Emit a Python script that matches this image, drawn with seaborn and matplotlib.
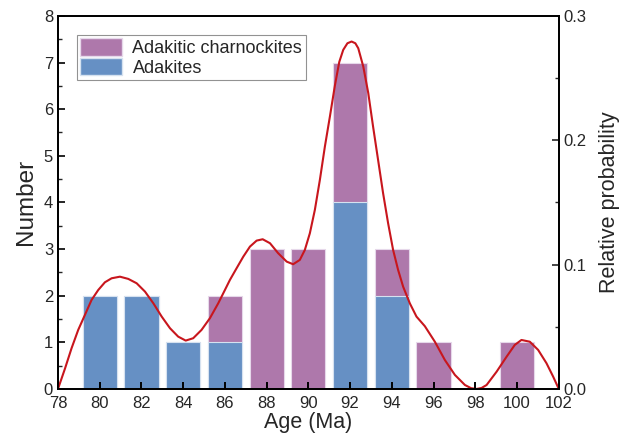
import matplotlib
matplotlib.use("Agg")
import matplotlib.pyplot as plt
import matplotlib.transforms as mtransforms
import seaborn as sns
from matplotlib.ticker import MultipleLocator, FormatStrFormatter
from matplotlib.patches import Patch

# ---- data ----
ages = [80, 82, 84, 86, 88, 90, 92, 94, 96, 98, 100]
adakites = [2, 2, 1, 1, 0, 0, 4, 2, 0, 0, 0]
charnockites = [0, 0, 0, 1, 3, 3, 3, 1, 1, 0, 1]

curve_x = [78.0, 78.34, 78.65, 78.97, 79.29, 79.61, 79.93, 80.25, 80.57, 80.97,
           81.37, 81.77, 82.17, 82.57, 82.97, 83.37, 83.76, 84.12, 84.48, 84.88,
           85.28, 85.68, 86.0, 86.24, 86.56, 86.88, 87.2, 87.52, 87.81, 88.16,
           88.55, 88.96, 89.27, 89.59, 89.83, 90.07, 90.31, 90.55, 90.79, 91.03,
           91.27, 91.48, 91.67, 91.87, 92.07, 92.25, 92.39, 92.63, 92.87, 93.10,
           93.34, 93.58, 93.82, 94.06, 94.30, 94.54, 94.86, 95.18, 95.58, 96.06,
           96.54, 97.02, 97.5, 97.8, 98.06, 98.3, 98.54, 99.02, 99.5, 99.89,
           100.21, 100.61, 101.01, 101.41, 101.73, 102.0]
curve_p = [0.0, 0.0166, 0.0327, 0.0475, 0.0595, 0.0716, 0.0796, 0.0858, 0.0890, 0.0903,
           0.0885, 0.0850, 0.0783, 0.0689, 0.0582, 0.0488, 0.0421, 0.0389, 0.0408, 0.0475,
           0.0569, 0.0689, 0.0796, 0.0877, 0.0971, 0.1064, 0.1145, 0.1193, 0.1204, 0.1172,
           0.1092, 0.1024, 0.1003, 0.1038, 0.1118, 0.1252, 0.1440, 0.1681, 0.1949, 0.2190,
           0.2440, 0.2630, 0.2727, 0.2780, 0.2794, 0.2780, 0.2740, 0.2593, 0.2379, 0.2110,
           0.1842, 0.1574, 0.1333, 0.1118, 0.0957, 0.0823, 0.0689, 0.0582, 0.0505, 0.0380,
           0.0233, 0.0113, 0.0032, 0.0006, 0.0, 0.0008, 0.0032, 0.0139, 0.0260, 0.0354,
           0.0394, 0.0380, 0.0314, 0.0207, 0.0099, 0.0]

labels = ["Adakitic charnockites", "Adakites"]
purple = "#AE78AB"
blue = "#6690C4"
red = "#C8161D"

totals = [a + c for a, c in zip(adakites, charnockites)]

sns.set_style("ticks")
plt.rcParams['font.family'] = ['Liberation Sans', 'DejaVu Sans']

rect = [0.0913, 0.12, 0.7887, 0.844]
fig = plt.figure(figsize=(6.35, 4.42), dpi=100)
ax = fig.add_axes(rect)

sns.barplot(x=ages, y=totals, native_scale=True, width=0.82, color=purple,
            saturation=1, edgecolor="#E6D8EA", linewidth=0.8, ax=ax)
sns.barplot(x=ages, y=adakites, native_scale=True, width=0.82, color=blue,
            saturation=1, edgecolor="#D6E2F0", linewidth=0.8, ax=ax)
ax.set_axisbelow(False)

ax.set_xlim(78, 102)
ax.set_ylim(0, 8)
ax.xaxis.set_major_locator(MultipleLocator(2))
ax.yaxis.set_major_locator(MultipleLocator(1))
ax.yaxis.set_minor_locator(MultipleLocator(0.5))
ax.tick_params(axis='x', which='major', direction='in', length=5, width=1.2,
               labelsize=12, color='black', pad=5)
ax.tick_params(axis='y', which='major', direction='in', length=5,
               width=1.2, labelsize=12, color='black')
ax.tick_params(axis='y', which='minor', direction='in', length=3, width=1.0)
ax.set_xlabel("Age (Ma)", fontsize=15.5, labelpad=1)
ax.set_ylabel("Number", fontsize=17.5, labelpad=5)
for s in ax.spines.values():
    s.set_linewidth(1.3)
    s.set_color('black')

ax2 = ax.twinx()
sns.lineplot(x=curve_x, y=curve_p, color=red, linewidth=1.5, ax=ax2)
ax2.set_ylim(0, 0.3)
ax2.yaxis.set_major_locator(MultipleLocator(0.1))
ax2.yaxis.set_minor_locator(MultipleLocator(0.05))
ax2.yaxis.set_major_formatter(FormatStrFormatter('%.1f'))
ax2.tick_params(axis='y', which='major', direction='in', length=5, width=1.2,
                labelsize=12)
ax2.tick_params(axis='y', which='minor', direction='in', length=3, width=1.0)
ax2.set_ylabel("Relative probability", fontsize=15.5, labelpad=9)
for s in ax2.spines.values():
    s.set_linewidth(1.3)
    s.set_color('black')

# inward bottom tick marks at the x-axis major tick positions, drawn on top
tick_trans = mtransforms.blended_transform_factory(ax2.transData, ax2.transAxes)
xt = [v for v in ax.get_xticks() if 78 < v < 102]
ax2.vlines(xt, 0, 0.0186, transform=tick_trans, colors='black',
           linewidth=1.2, zorder=30, clip_on=False)

handles = [Patch(facecolor=purple, edgecolor="#E6D8EA"),
           Patch(facecolor=blue, edgecolor="#D6E2F0")]
leg = ax.legend(handles, labels, loc='upper left', bbox_to_anchor=(0.037, 0.95),
                fontsize=13, frameon=True, fancybox=False, handlelength=2.3,
                handleheight=1.1, handletextpad=0.6, borderpad=0.2,
                labelspacing=0.05, borderaxespad=0)
leg.get_frame().set_edgecolor('#777777')
leg.get_frame().set_linewidth(0.8)

fig.savefig("out.png", dpi=100)
